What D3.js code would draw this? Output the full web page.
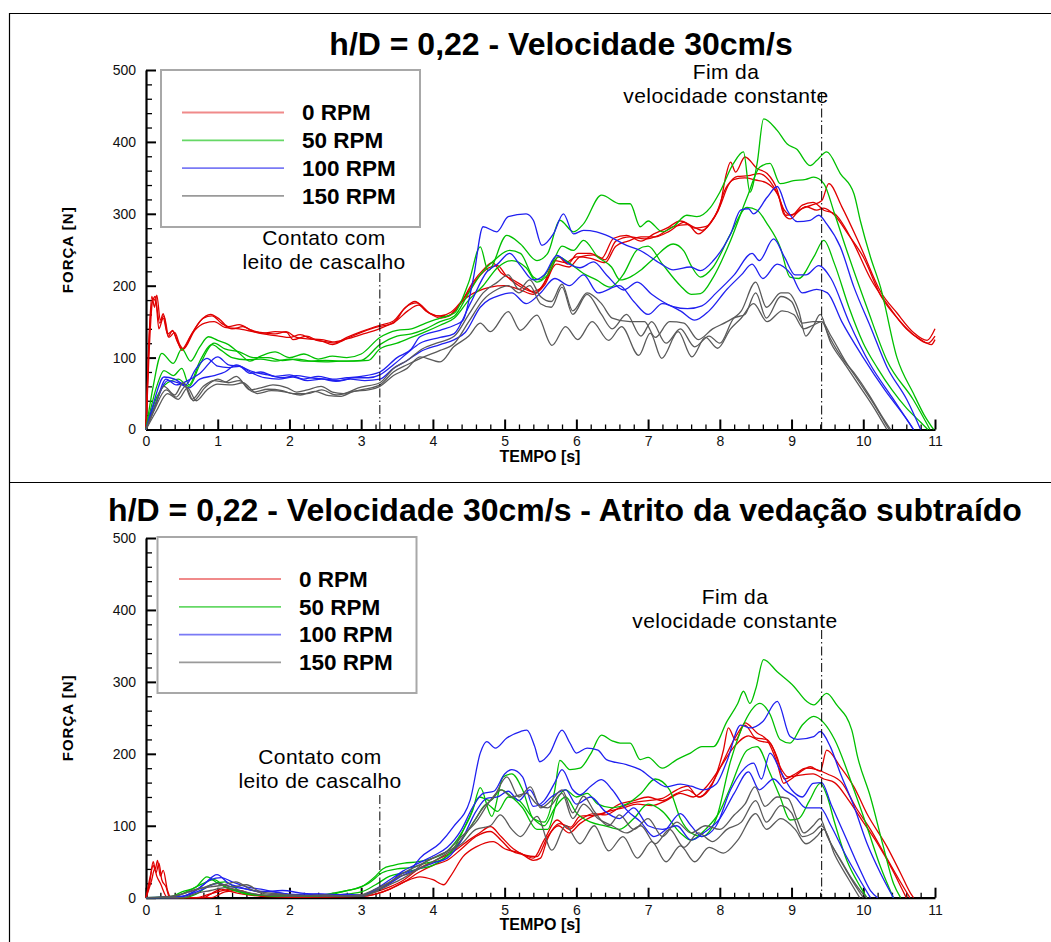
<!DOCTYPE html>
<html><head><meta charset="utf-8">
<script src="https://cdn.jsdelivr.net/npm/d3@7"></script>
<style>body{margin:0;background:#fff} svg text{font-family:Arial,"Liberation Sans",Helvetica,sans-serif}</style>
</head><body><svg id="c" width="1051" height="942"></svg>
<script>
// ---------- DATA ----------
const rpmLabels = ["0 RPM", "50 RPM", "100 RPM", "150 RPM"];
const xTicks = [0,1,2,3,4,5,6,7,8,9,10,11];
const yTicks = [0,100,200,300,400,500];
const titleTop = "h/D = 0,22 - Velocidade 30cm/s";
const titleBottom = "h/D = 0,22 - Velocidade 30cm/s - Atrito da vedação subtraído";
const xLabel = "TEMPO [s]";
const yLabel = "FORÇA [N]";
const contactTime = 3.26;
const endConstTime = 9.42;
const contactText = ["Contato com", "leito de cascalho"];
const endText = ["Fim da", "velocidade constante"];

// top panel: [time s, force N]
const topR1 = [[0,0],[0.04,120],[0.08,185],[0.12,170],[0.15,187],[0.2,152],[0.24,161],[0.31,129],[0.37,138],[0.43,124],[0.5,112],[0.62,130],[0.75,150],[0.9,160],[1.03,153],[1.15,143],[1.3,146],[1.45,139],[1.64,134],[1.8,136],[1.96,135],[2.05,125],[2.24,130],[2.38,124],[2.52,122],[2.62,120],[2.8,128],[3.0,136],[3.26,145],[3.45,151],[3.6,168],[3.75,178],[3.9,165],[4.05,158],[4.2,157],[4.38,175],[4.56,205],[4.7,222],[4.83,232],[4.95,218],[5.12,208],[5.3,197],[5.42,190],[5.6,212],[5.75,240],[5.88,230],[6.02,245],[6.2,245],[6.35,238],[6.52,266],[6.7,270],[6.9,262],[7.08,272],[7.26,280],[7.45,290],[7.63,282],[7.75,277],[7.91,293],[8.01,314],[8.08,351],[8.15,372],[8.22,358],[8.35,379],[8.52,363],[8.66,356],[8.8,333],[8.89,300],[8.98,293],[9.12,306],[9.28,312],[9.42,318],[9.52,342],[9.7,310],[9.96,255],[10.24,192],[10.47,162],[10.7,135],[10.89,124],[11.0,140]];
const topR2 = [[0,0],[0.04,100],[0.09,178],[0.13,185],[0.18,140],[0.24,155],[0.3,133],[0.37,137],[0.45,120],[0.5,110],[0.65,135],[0.8,155],[0.92,158],[1.05,148],[1.2,140],[1.35,143],[1.5,136],[1.7,132],[1.85,130],[2.0,128],[2.15,132],[2.3,126],[2.45,123],[2.6,118],[2.75,124],[2.95,133],[3.2,142],[3.45,148],[3.62,170],[3.78,176],[3.95,162],[4.1,155],[4.25,160],[4.45,182],[4.62,192],[4.8,198],[5.0,200],[5.2,195],[5.4,188],[5.55,200],[5.72,230],[5.9,226],[6.05,240],[6.25,243],[6.4,236],[6.55,262],[6.75,268],[6.95,265],[7.15,270],[7.35,282],[7.55,285],[7.7,272],[7.85,285],[8.0,310],[8.12,340],[8.25,352],[8.4,353],[8.55,356],[8.7,345],[8.82,325],[8.92,298],[9.05,300],[9.2,310],[9.35,305],[9.45,308],[9.6,298],[9.8,270],[10.0,240],[10.25,185],[10.5,152],[10.72,130],[10.9,120],[11.0,130]];
const topR3 = [[0,0],[0.05,140],[0.1,182],[0.14,176],[0.19,148],[0.25,158],[0.32,128],[0.4,135],[0.47,118],[0.52,112],[0.68,138],[0.82,148],[0.95,150],[1.1,142],[1.3,140],[1.45,137],[1.6,135],[1.8,133],[1.95,136],[2.1,128],[2.25,126],[2.45,125],[2.6,122],[2.8,126],[3.0,132],[3.25,140],[3.5,152],[3.65,165],[3.8,173],[3.95,162],[4.1,158],[4.25,163],[4.45,185],[4.62,210],[4.78,225],[4.9,228],[5.02,214],[5.2,200],[5.38,192],[5.52,198],[5.7,235],[5.85,232],[6.0,240],[6.2,238],[6.4,232],[6.55,255],[6.72,262],[6.9,268],[7.1,268],[7.3,276],[7.5,288],[7.65,280],[7.8,282],[7.95,300],[8.08,335],[8.2,348],[8.35,350],[8.5,347],[8.65,343],[8.8,328],[8.9,305],[9.0,298],[9.15,312],[9.3,316],[9.45,305],[9.6,300],[9.85,262],[10.1,210],[10.35,172],[10.6,140],[10.8,125],[10.95,118],[11.0,125]];
const topG1 = [[0,0],[0.1,60],[0.22,106],[0.38,92],[0.5,112],[0.62,95],[0.75,115],[0.87,129],[1.0,124],[1.15,118],[1.3,106],[1.45,95],[1.6,102],[1.8,108],[2.0,100],[2.2,105],[2.4,98],[2.6,102],[2.8,100],[3.0,105],[3.26,128],[3.5,138],[3.7,140],[3.9,148],[4.1,155],[4.3,162],[4.5,205],[4.66,254],[4.77,221],[5.03,270],[5.22,258],[5.45,235],[5.6,245],[5.77,291],[5.96,275],[6.1,286],[6.35,326],[6.61,314],[6.75,314],[6.89,282],[7.0,290],[7.2,275],[7.35,282],[7.54,298],[7.68,296],[7.87,309],[8.0,330],[8.19,370],[8.33,386],[8.42,330],[8.52,370],[8.61,432],[8.8,416],[8.94,397],[9.07,390],[9.26,367],[9.35,374],[9.49,386],[9.68,356],[9.87,328],[9.96,290],[10.1,240],[10.24,198],[10.47,100],[10.7,50],[10.85,20],[10.98,0]];
const topG2 = [[0,0],[0.15,60],[0.25,82],[0.38,75],[0.5,85],[0.6,62],[0.75,95],[0.92,118],[1.05,110],[1.2,100],[1.4,97],[1.6,98],[1.8,95],[2.0,98],[2.2,95],[2.5,96],[2.8,95],[3.0,96],[3.26,118],[3.5,130],[3.7,133],[3.9,140],[4.1,150],[4.3,158],[4.5,190],[4.66,215],[4.85,235],[5.07,249],[5.22,245],[5.4,212],[5.49,208],[5.68,235],[5.8,255],[5.96,249],[6.1,263],[6.3,240],[6.49,226],[6.61,208],[6.75,212],[6.89,221],[7.08,238],[7.35,258],[7.5,248],[7.6,228],[7.73,212],[7.9,225],[8.15,272],[8.38,309],[8.52,305],[8.66,286],[8.84,254],[8.98,212],[9.1,210],[9.31,240],[9.45,263],[9.6,230],[9.8,170],[10.0,120],[10.2,85],[10.4,55],[10.6,30],[10.8,10],[10.9,0]];
const topG3 = [[0,0],[0.15,45],[0.3,65],[0.45,70],[0.6,60],[0.75,90],[0.95,120],[1.1,112],[1.3,108],[1.5,100],[1.7,100],[1.9,96],[2.1,98],[2.3,95],[2.5,94],[2.7,95],[2.9,95],[3.1,96],[3.26,112],[3.5,120],[3.7,128],[3.9,136],[4.1,145],[4.3,155],[4.5,180],[4.7,200],[4.9,225],[5.1,235],[5.3,225],[5.45,205],[5.6,215],[5.75,240],[5.91,231],[6.1,217],[6.28,208],[6.47,198],[6.65,215],[6.85,250],[7.0,255],[7.2,230],[7.45,200],[7.6,188],[7.73,189],[7.91,212],[8.15,263],[8.38,323],[8.56,365],[8.7,370],[8.84,342],[9.03,346],[9.2,348],[9.31,351],[9.45,342],[9.6,300],[9.77,249],[10.05,170],[10.33,96],[10.7,41],[10.93,0]];
const topB1 = [[0,0],[0.1,35],[0.25,73],[0.4,70],[0.55,62],[0.7,85],[0.85,99],[1.0,88],[1.15,86],[1.3,88],[1.45,78],[1.6,80],[1.8,74],[2.0,76],[2.2,70],[2.4,74],[2.6,70],[2.8,72],[3.0,74],[3.26,80],[3.5,100],[3.7,112],[3.82,129],[4.1,138],[4.3,145],[4.42,152],[4.56,208],[4.7,282],[4.89,275],[5.05,296],[5.3,300],[5.4,291],[5.52,256],[5.68,272],[5.82,300],[5.96,272],[6.1,277],[6.28,275],[6.47,268],[6.7,256],[6.89,249],[7.17,231],[7.35,222],[7.59,226],[7.73,221],[7.91,235],[8.15,272],[8.29,305],[8.4,307],[8.47,300],[8.66,323],[8.8,338],[8.94,305],[9.08,289],[9.26,291],[9.38,298],[9.49,286],[9.68,254],[9.87,198],[10.1,143],[10.33,87],[10.61,41],[10.8,0]];
const topB2 = [[0,0],[0.12,30],[0.28,70],[0.42,62],[0.58,68],[0.75,78],[1.0,101],[1.15,90],[1.3,88],[1.5,80],[1.7,76],[1.9,72],[2.1,75],[2.3,72],[2.5,70],[2.7,68],[2.9,72],[3.1,72],[3.26,76],[3.45,90],[3.64,106],[3.82,120],[4.1,128],[4.29,133],[4.52,175],[4.75,219],[4.9,230],[5.07,245],[5.22,228],[5.4,208],[5.55,215],[5.73,242],[5.9,230],[6.05,225],[6.24,233],[6.42,215],[6.66,194],[6.85,205],[7.05,188],[7.2,178],[7.35,171],[7.55,168],[7.75,172],[7.95,190],[8.2,215],[8.45,245],[8.55,235],[8.75,265],[8.9,240],[9.05,215],[9.2,215],[9.38,228],[9.55,210],[9.8,150],[10.1,90],[10.4,45],[10.7,0]];
const topB3 = [[0,0],[0.15,40],[0.3,68],[0.45,65],[0.6,58],[0.75,70],[0.95,75],[1.1,80],[1.26,90],[1.45,80],[1.65,72],[1.85,70],[2.05,73],[2.25,68],[2.45,70],[2.65,67],[2.85,70],[3.05,68],[3.26,70],[3.45,85],[3.64,96],[3.82,108],[4.1,118],[4.3,125],[4.45,135],[4.66,170],[4.94,187],[5.1,190],[5.3,175],[5.5,190],[5.7,210],[5.9,200],[6.1,215],[6.3,190],[6.6,200],[6.8,178],[7.0,160],[7.2,175],[7.45,165],[7.65,152],[7.85,165],[8.1,195],[8.3,215],[8.45,230],[8.6,210],[8.8,230],[9.0,215],[9.15,190],[9.35,195],[9.5,190],[9.7,150],[10.0,100],[10.3,55],[10.6,15],[10.7,0]];
const topK1 = [[0,0],[0.1,25],[0.25,60],[0.4,48],[0.52,65],[0.64,42],[0.8,60],[0.95,68],[1.1,66],[1.26,74],[1.45,55],[1.6,58],[1.77,62],[1.97,58],[2.1,52],[2.25,55],[2.44,60],[2.6,52],[2.75,50],[2.96,58],[3.26,65],[3.45,85],[3.64,96],[3.85,112],[4.05,120],[4.3,130],[4.5,160],[4.7,190],[4.9,205],[5.05,215],[5.2,195],[5.35,208],[5.5,185],[5.65,178],[5.8,202],[5.95,165],[6.15,190],[6.35,175],[6.5,155],[6.75,150],[6.95,150],[7.1,128],[7.3,150],[7.5,148],[7.7,125],[7.9,140],[8.1,150],[8.3,165],[8.5,205],[8.65,170],[8.85,190],[8.95,190],[9.1,165],[9.2,130],[9.3,143],[9.4,160],[9.5,135],[9.7,100],[9.9,75],[10.1,45],[10.25,20],[10.38,0]];
const topK2 = [[0,0],[0.12,28],[0.28,55],[0.42,45],[0.55,60],[0.66,40],[0.82,58],[1.0,70],[1.15,65],[1.3,68],[1.5,52],[1.7,56],[1.9,54],[2.05,50],[2.25,50],[2.45,55],[2.65,48],[2.85,52],[3.05,56],[3.26,62],[3.45,80],[3.64,90],[3.85,100],[4.1,110],[4.3,120],[4.5,150],[4.7,180],[4.9,195],[5.05,200],[5.2,190],[5.35,200],[5.5,175],[5.65,170],[5.8,198],[5.95,160],[6.15,188],[6.35,160],[6.5,140],[6.7,160],[6.9,130],[7.05,150],[7.25,120],[7.45,140],[7.65,115],[7.85,130],[8.0,120],[8.2,155],[8.35,160],[8.5,190],[8.65,155],[8.85,185],[9.0,178],[9.15,148],[9.3,150],[9.42,150],[9.55,130],[9.75,95],[9.95,65],[10.15,35],[10.3,10],[10.36,0]];
const topK3 = [[0,0],[0.14,25],[0.3,50],[0.45,42],[0.58,58],[0.7,40],[0.85,55],[1.0,63],[1.2,62],[1.35,65],[1.55,50],[1.75,54],[1.95,52],[2.15,48],[2.35,53],[2.55,47],[2.7,46],[2.9,53],[3.1,55],[3.26,60],[3.45,75],[3.64,85],[3.82,101],[4.1,94],[4.29,115],[4.5,130],[4.66,148],[4.8,136],[5.05,164],[5.22,138],[5.45,159],[5.66,117],[5.85,143],[6.02,125],[6.22,150],[6.45,124],[6.63,143],[6.87,103],[7.03,134],[7.19,99],[7.42,136],[7.61,101],[7.8,128],[7.97,113],[8.15,140],[8.3,155],[8.47,175],[8.66,150],[8.87,165],[9.03,160],[9.17,140],[9.3,145],[9.42,150],[9.55,120],[9.75,90],[9.95,60],[10.15,30],[10.3,5],[10.33,0]];

// bottom panel (seal friction subtracted): [time s, force N]
const botR1 = [[0,0],[0.05,20],[0.1,50],[0.13,40],[0.16,52],[0.2,30],[0.24,38],[0.3,10],[0.35,0],[0.8,0],[0.9,5],[1.05,12],[1.2,8],[1.35,5],[1.6,2],[2.0,1],[2.5,2],[3.0,3],[3.2,8],[3.4,15],[3.6,25],[3.8,40],[3.95,48],[4.1,55],[4.3,65],[4.5,80],[4.65,90],[4.8,99],[4.95,85],[5.12,68],[5.3,58],[5.4,55],[5.55,80],[5.73,108],[5.9,95],[6.05,108],[6.24,117],[6.4,115],[6.6,125],[6.8,132],[7.0,135],[7.2,138],[7.4,150],[7.55,155],[7.7,140],[7.85,150],[8.05,205],[8.12,236],[8.22,219],[8.35,243],[8.52,229],[8.66,219],[8.8,187],[8.89,159],[8.98,164],[9.17,178],[9.26,182],[9.4,176],[9.49,205],[9.68,182],[9.87,154],[10.05,117],[10.33,71],[10.52,34],[10.66,6],[10.7,0]];
const botR2 = [[0,0],[0.06,30],[0.1,45],[0.14,35],[0.18,48],[0.22,25],[0.28,15],[0.33,0],[0.7,0],[0.85,4],[1.0,8],[1.2,12],[1.4,6],[1.7,3],[2.0,2],[2.5,1],[3.0,2],[3.2,5],[3.4,12],[3.6,22],[3.8,35],[4.0,45],[4.2,52],[4.4,68],[4.6,85],[4.8,92],[4.95,80],[5.1,65],[5.25,60],[5.45,57],[5.6,85],[5.75,100],[5.9,90],[6.05,103],[6.2,112],[6.4,118],[6.6,130],[6.8,135],[7.0,140],[7.2,135],[7.4,145],[7.55,150],[7.72,140],[7.9,160],[8.05,190],[8.2,220],[8.35,240],[8.5,222],[8.65,220],[8.8,195],[8.9,165],[9.05,172],[9.2,180],[9.35,178],[9.5,172],[9.7,160],[9.9,125],[10.1,95],[10.3,60],[10.5,25],[10.65,0]];
const botR3 = [[0,0],[0.08,25],[0.12,40],[0.15,30],[0.2,20],[0.3,0],[0.9,0],[1.1,8],[1.3,10],[1.5,4],[1.8,2],[2.2,1],[2.6,2],[3.0,2],[3.2,5],[3.4,12],[3.6,22],[3.82,29],[4.0,25],[4.15,18],[4.24,29],[4.42,57],[4.61,71],[4.84,78],[5.0,68],[5.22,62],[5.4,52],[5.5,55],[5.59,80],[5.77,103],[5.92,98],[6.05,113],[6.28,115],[6.45,120],[6.65,125],[6.85,130],[7.05,128],[7.25,135],[7.45,145],[7.63,140],[7.82,155],[8.0,180],[8.2,210],[8.4,225],[8.55,218],[8.7,215],[8.85,180],[8.95,168],[9.1,170],[9.3,172],[9.45,165],[9.6,160],[9.8,135],[10.0,105],[10.2,75],[10.4,40],[10.55,10],[10.6,0]];
const botG1 = [[0,0],[0.3,0],[0.5,8],[0.7,15],[0.85,29],[1.0,20],[1.2,12],[1.4,5],[1.7,3],[2.0,2],[2.3,3],[2.6,5],[2.8,10],[3.0,15],[3.2,30],[3.3,40],[3.45,45],[3.6,48],[3.8,50],[4.0,55],[4.2,65],[4.4,90],[4.55,120],[4.66,153],[4.82,113],[4.98,168],[5.1,172],[5.25,150],[5.4,110],[5.55,105],[5.7,150],[5.77,191],[5.91,178],[6.05,180],[6.2,200],[6.35,226],[6.5,218],[6.61,215],[6.75,215],[6.89,192],[7.0,195],[7.2,180],[7.4,192],[7.59,201],[7.75,210],[7.91,210],[8.1,245],[8.25,270],[8.33,287],[8.42,270],[8.5,290],[8.61,331],[8.8,314],[9.03,294],[9.21,273],[9.31,268],[9.49,284],[9.63,268],[9.84,233],[9.92,196],[10.1,140],[10.28,71],[10.42,20],[10.52,0]];
const botG2 = [[0,0],[0.4,2],[0.6,10],[0.8,20],[0.95,25],[1.1,15],[1.3,8],[1.5,4],[1.8,3],[2.1,2],[2.4,3],[2.7,8],[2.9,12],[3.1,20],[3.3,35],[3.5,40],[3.7,42],[3.9,48],[4.1,52],[4.3,70],[4.5,110],[4.65,140],[4.8,135],[4.95,150],[5.1,140],[5.25,125],[5.45,95],[5.6,95],[5.75,140],[5.85,150],[6.0,140],[6.15,145],[6.3,130],[6.5,125],[6.7,130],[6.9,145],[7.1,165],[7.3,150],[7.45,110],[7.6,90],[7.75,85],[7.95,110],[8.15,190],[8.35,245],[8.56,270],[8.7,255],[8.84,220],[8.98,215],[9.15,240],[9.31,252],[9.45,243],[9.6,220],[9.87,150],[10.05,99],[10.24,43],[10.42,0]];
const botG3 = [[0,0],[0.5,0],[0.7,5],[0.9,18],[1.1,22],[1.3,10],[1.5,5],[1.8,2],[2.1,4],[2.4,2],[2.7,4],[3.0,8],[3.2,18],[3.4,30],[3.6,35],[3.8,40],[4.0,45],[4.2,58],[4.4,80],[4.6,110],[4.75,130],[4.9,120],[5.05,140],[5.2,135],[5.4,110],[5.55,100],[5.7,125],[5.85,140],[6.0,118],[6.2,105],[6.4,100],[6.6,95],[6.8,110],[7.0,130],[7.2,120],[7.45,90],[7.6,80],[7.8,95],[8.0,120],[8.15,154],[8.38,205],[8.52,210],[8.7,173],[8.84,140],[8.98,108],[9.1,110],[9.25,135],[9.4,159],[9.5,140],[9.59,108],[9.77,52],[9.96,15],[10.05,0]];
const botB1 = [[0,0],[0.4,0],[0.6,5],[0.8,18],[0.99,32],[1.15,20],[1.3,15],[1.5,10],[1.8,8],[2.1,3],[2.4,5],[2.7,3],[3.0,2],[3.2,10],[3.4,20],[3.5,30],[3.7,40],[3.82,55],[4.1,76],[4.29,99],[4.52,136],[4.66,201],[4.75,217],[4.87,208],[5.03,222],[5.22,231],[5.31,233],[5.42,210],[5.49,189],[5.63,201],[5.8,233],[5.91,215],[6.0,201],[6.15,208],[6.3,205],[6.42,192],[6.7,185],[6.89,178],[7.08,164],[7.26,154],[7.45,158],[7.6,155],[7.77,150],[7.95,158],[8.1,190],[8.29,240],[8.42,236],[8.6,245],[8.8,273],[8.98,224],[9.08,220],[9.31,224],[9.4,231],[9.54,210],[9.68,173],[9.87,127],[10.05,76],[10.24,34],[10.42,0]];
const botB2 = [[0,0],[0.5,2],[0.7,10],[0.9,25],[1.05,28],[1.2,22],[1.4,15],[1.6,12],[1.9,6],[2.2,4],[2.5,3],[2.8,5],[3.0,3],[3.2,12],[3.4,25],[3.6,38],[3.8,48],[4.0,58],[4.2,70],[4.4,95],[4.55,125],[4.7,145],[4.85,148],[5.0,172],[5.1,178],[5.25,168],[5.4,127],[5.55,135],[5.7,160],[5.8,178],[5.95,150],[6.05,143],[6.2,155],[6.35,164],[6.5,150],[6.7,122],[6.9,105],[7.08,85],[7.25,95],[7.45,117],[7.6,100],[7.75,85],[7.95,100],[8.15,150],[8.3,175],[8.47,187],[8.58,165],[8.7,201],[8.85,175],[9.0,150],[9.15,140],[9.3,159],[9.42,160],[9.55,130],[9.75,85],[9.95,40],[10.1,10],[10.2,0]];
const botB3 = [[0,0],[0.4,0],[0.6,4],[0.8,12],[1.0,20],[1.2,15],[1.4,12],[1.6,8],[1.9,10],[2.2,6],[2.5,5],[2.8,4],[3.0,4],[3.2,10],[3.4,20],[3.6,32],[3.8,40],[4.0,48],[4.2,55],[4.4,80],[4.6,120],[4.75,138],[4.9,140],[5.05,148],[5.2,135],[5.35,150],[5.5,128],[5.65,140],[5.85,150],[6.0,130],[6.2,140],[6.4,120],[6.6,110],[6.8,125],[7.0,100],[7.2,95],[7.4,100],[7.6,80],[7.8,92],[8.0,110],[8.2,145],[8.4,175],[8.55,150],[8.75,165],[8.9,150],[9.05,140],[9.2,125],[9.4,125],[9.55,100],[9.75,60],[9.95,25],[10.1,0]];
const botK1 = [[0,0],[0.3,0],[0.5,5],[0.7,12],[0.9,15],[1.1,18],[1.25,22],[1.45,12],[1.7,5],[2.0,4],[2.3,3],[2.6,2],[2.9,3],[3.1,5],[3.3,15],[3.5,28],[3.7,35],[3.9,50],[4.1,60],[4.3,70],[4.5,95],[4.7,125],[4.85,140],[5.03,168],[5.2,140],[5.36,154],[5.5,125],[5.65,135],[5.8,150],[5.95,118],[6.1,141],[6.25,120],[6.45,100],[6.6,115],[6.8,95],[7.0,110],[7.2,85],[7.4,105],[7.6,90],[7.8,100],[8.0,95],[8.2,115],[8.35,130],[8.49,154],[8.63,127],[8.8,140],[8.95,138],[9.08,108],[9.17,90],[9.3,100],[9.4,110],[9.5,85],[9.7,50],[9.85,25],[10.0,5],[10.05,0]];
const botK2 = [[0,0],[0.4,3],[0.6,8],[0.8,14],[1.0,20],[1.2,15],[1.4,18],[1.6,8],[1.9,5],[2.2,3],[2.5,4],[2.8,2],[3.0,4],[3.2,12],[3.4,22],[3.6,35],[3.8,45],[4.0,55],[4.2,65],[4.4,85],[4.6,105],[4.8,135],[4.95,150],[5.1,140],[5.3,145],[5.45,130],[5.6,125],[5.8,145],[5.95,110],[6.1,130],[6.3,110],[6.5,100],[6.7,90],[6.9,100],[7.1,75],[7.3,95],[7.5,70],[7.7,90],[7.9,78],[8.1,95],[8.3,105],[8.5,135],[8.65,105],[8.85,128],[9.0,118],[9.15,85],[9.3,90],[9.42,100],[9.55,75],[9.75,40],[9.9,15],[10.0,0]];
const botK3 = [[0,0],[0.5,0],[0.7,6],[0.9,10],[1.1,14],[1.3,10],[1.6,4],[2.0,2],[2.5,3],[3.0,2],[3.2,8],[3.4,18],[3.6,28],[3.8,40],[4.0,50],[4.2,62],[4.4,75],[4.6,95],[4.8,100],[4.94,115],[5.1,95],[5.22,85],[5.45,113],[5.66,66],[5.85,100],[6.05,75],[6.25,100],[6.45,65],[6.65,85],[6.85,55],[7.05,78],[7.25,50],[7.45,72],[7.65,50],[7.85,70],[8.05,62],[8.25,80],[8.5,117],[8.65,95],[8.85,110],[9.05,95],[9.2,75],[9.35,85],[9.45,95],[9.6,60],[9.8,25],[9.95,0]];

// ---------- STYLE ----------
const colors = ["#e00000", "#00c000", "#2020f0", "#5a5a5a"];
const legendColors = ["#f08a8a", "#66d866", "#7a7af5", "#9a9a9a"];

const panels = [
  { series: [[topR1,topR2,topR3],[topG1,topG2,topG3],[topB1,topB2,topB3],[topK1,topK2,topK3]],
    title: titleTop, titleX: 561, titleY: 55, yTop: 70, yBottom: 429.5,
    legend: {x: 161, y: 70, w: 259, h: 157, lx1: 182, lx2: 284, ly0: 112.5, tx: 302},
    contact: {tx: 324, ty1: 245, ty2: 269, lineTop: 273},
    endc: {tx: 726, ty1: 79, ty2: 103, lineTop: 92},
    xlabY: 462 },
  { series: [[botR1,botR2,botR3],[botG1,botG2,botG3],[botB1,botB2,botB3],[botK1,botK2,botK3]],
    title: titleBottom, titleX: 565, titleY: 521, yTop: 538, yBottom: 897.7,
    legend: {x: 157.5, y: 537, w: 259, h: 156, lx1: 179, lx2: 281, ly0: 579, tx: 299},
    contact: {tx: 320, ty1: 764, ty2: 788, lineTop: 795},
    endc: {tx: 735, ty1: 604, ty2: 628, lineTop: 630},
    xlabY: 930 }
];

const svg = d3.select("#c");
svg.append("rect").attr("width",1051).attr("height",942).attr("fill","#fff");
// frame
const frame = svg.append("g").attr("stroke","#000").attr("stroke-width",1.2);
frame.append("line").attr("x1",9).attr("x2",1051).attr("y1",13.5).attr("y2",13.5);
frame.append("line").attr("x1",9.5).attr("x2",9.5).attr("y1",13).attr("y2",942);
frame.append("line").attr("x1",9).attr("x2",1051).attr("y1",482.5).attr("y2",482.5);

panels.forEach(p => {
  const x = d3.scaleLinear().domain([0, 11]).range([146, 935]);
  const y = d3.scaleLinear().domain([0, 500]).range([p.yBottom, p.yTop]);
  const g = svg.append("g");

  // title
  g.append("text").attr("x", p.titleX).attr("y", p.titleY).attr("text-anchor","middle")
    .attr("font-size", 32).attr("font-weight","bold").text(p.title);

  // minor ticks
  const minorX = d3.range(0, 11.001, 0.2).filter(v => Math.abs(v - Math.round(v)) > 1e-6);
  const minorY = d3.range(0, 500.001, 20).filter(v => v % 100 !== 0);
  g.append("g").attr("transform", `translate(0,${p.yBottom})`)
    .call(d3.axisBottom(x).tickValues(minorX).tickSize(-5).tickSizeOuter(0).tickFormat(""))
    .call(a => a.select(".domain").remove())
    .call(a => a.selectAll("line").attr("stroke-width",1.3));
  g.append("g").attr("transform", `translate(146,0)`)
    .call(d3.axisLeft(y).tickValues(minorY).tickSize(-6).tickSizeOuter(0).tickFormat(""))
    .call(a => a.select(".domain").remove())
    .call(a => a.selectAll("line").attr("stroke-width",1.3));

  // major axes
  const xa = g.append("g").attr("transform", `translate(0,${p.yBottom})`)
    .call(d3.axisBottom(x).tickValues(xTicks).tickSize(-10).tickSizeOuter(0).tickPadding(7).tickFormat(d3.format("d")));
  xa.select(".domain").attr("stroke-width",2.2);
  xa.selectAll(".tick line").attr("stroke-width",2);
  xa.selectAll("text").attr("font-size",14).attr("font-family","Arial, 'Liberation Sans', sans-serif").attr("fill","#111");
  const ya = g.append("g").attr("transform", `translate(146,0)`)
    .call(d3.axisLeft(y).tickValues(yTicks).tickSize(-10).tickSizeOuter(0).tickPadding(10).tickFormat(d3.format("d")));
  ya.select(".domain").attr("stroke-width",2.2);
  ya.selectAll(".tick line").attr("stroke-width",2);
  ya.selectAll("text").attr("font-size",14).attr("font-family","Arial, 'Liberation Sans', sans-serif").attr("fill","#111");

  // axis titles
  g.append("text").attr("x", 540).attr("y", p.xlabY).attr("text-anchor","middle")
    .attr("font-size",16).attr("font-weight","bold").text(xLabel);
  const ymid = (p.yTop + p.yBottom) / 2;
  g.append("text").attr("transform", `translate(73,${ymid}) rotate(-90)`).attr("text-anchor","middle")
    .attr("font-size",15).attr("font-weight","bold").attr("letter-spacing",1).text(yLabel);

  // data lines
  const line = d3.line().x(d => x(d[0])).y(d => y(Math.max(0, d[1]))).curve(d3.curveMonotoneX);
  const lg = g.append("g").attr("fill","none");
  p.series.forEach((grp, gi) => {
    grp.forEach(s => {
      lg.append("path").attr("d", line(s)).attr("stroke", colors[gi]).attr("stroke-width",1.3)
        .attr("stroke-linejoin","round");
    });
  });

  // vertical dash-dot markers
  const ann = g.append("g").attr("stroke","#000").attr("stroke-width",1).attr("stroke-dasharray","9,3,1.5,3");
  ann.append("line").attr("x1", x(contactTime)).attr("x2", x(contactTime)).attr("y1", p.contact.lineTop).attr("y2", p.yBottom);
  ann.append("line").attr("x1", x(endConstTime)).attr("x2", x(endConstTime)).attr("y1", p.endc.lineTop).attr("y2", p.yBottom);

  const at = g.append("g").attr("font-size",21).attr("letter-spacing",0.4).attr("text-anchor","middle").attr("fill","#000");
  at.append("text").attr("x", p.contact.tx).attr("y", p.contact.ty1).text(contactText[0]);
  at.append("text").attr("x", p.contact.tx).attr("y", p.contact.ty2).text(contactText[1]);
  at.append("text").attr("x", p.endc.tx).attr("y", p.endc.ty1).text(endText[0]);
  at.append("text").attr("x", p.endc.tx).attr("y", p.endc.ty2).text(endText[1]);

  // legend
  const L = p.legend;
  const leg = g.append("g");
  leg.append("rect").attr("x", L.x).attr("y", L.y).attr("width", L.w).attr("height", L.h)
    .attr("fill","#fff").attr("stroke","#a8a8a8").attr("stroke-width",2);
  rpmLabels.forEach((lab, i) => {
    const yy = L.ly0 + i * 27.8;
    leg.append("line").attr("x1", L.lx1).attr("x2", L.lx2).attr("y1", yy).attr("y2", yy)
      .attr("stroke", legendColors[i]).attr("stroke-width",1.8);
    leg.append("text").attr("x", L.tx).attr("y", yy + 7.8).attr("font-size",22.5).attr("font-weight","bold").text(lab);
  });
});
</script>
</body></html>
